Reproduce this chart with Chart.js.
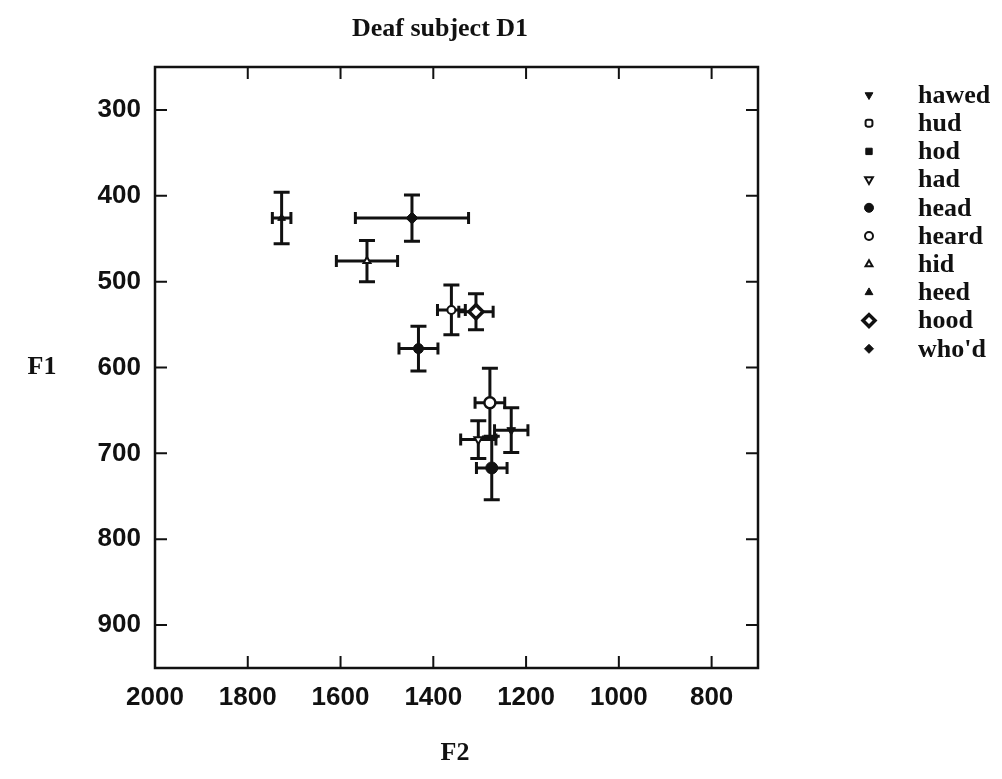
<!DOCTYPE html>
<html><head><meta charset="utf-8">
<script src="https://cdn.jsdelivr.net/npm/chart.js@4.4.0/dist/chart.umd.min.js"></script>
<style>html,body{margin:0;padding:0;background:#fff;}#wrap{width:1002px;height:779px;position:relative;}canvas{display:block;}</style>
</head><body><div id="wrap"><canvas id="c" width="1002" height="779"></canvas></div>
<script>
// ---- data ----
const vowels = ['hawed', 'hud', 'hod', 'had', 'head', 'heard', 'hid', 'heed', 'hood', "who'd"];
const f2Mean = [1232, 1278, 1274, 1303, 1432, 1361, 1543, 1727, 1308, 1446];
const f1Mean = [673, 641, 717, 684, 578, 533, 476, 426, 535, 426];
const f2Err  = [36, 32, 33, 38, 42, 30, 66, 20, 37, 122];
const f1Err  = [26, 40, 37, 22, 26, 29, 24, 30, 21, 27];
const xTickValues = [2000, 1800, 1600, 1400, 1200, 1000, 800];
const yTickValues = [300, 400, 500, 600, 700, 800, 900];
const titleText = 'Deaf subject D1';
const xTitleText = 'F2';
const yTitleText = 'F1';

// ---- marker styles per vowel ----
const INK = '#111';
const styles = {
  'hawed': {pointStyle: 'triangle', rotation: 180, bg: INK, r: 5, bw: 1},
  'hud':   {pointStyle: 'circle', rotation: 0, bg: '#fff', r: 5.5, bw: 2.5},
  'hod':   {pointStyle: 'circle', rotation: 0, bg: INK, r: 6, bw: 1},
  'had':   {pointStyle: 'triangle', rotation: 180, bg: '#fff', r: 4.5, bw: 2},
  'head':  {pointStyle: 'circle', rotation: 0, bg: INK, r: 5, bw: 1},
  'heard': {pointStyle: 'circle', rotation: 0, bg: '#fff', r: 4, bw: 2},
  'hid':   {pointStyle: 'triangle', rotation: 0, bg: '#fff', r: 4, bw: 2},
  'heed':  {pointStyle: 'triangle', rotation: 0, bg: INK, r: 4.5, bw: 1},
  'hood':  {pointStyle: 'rectRot', rotation: 0, bg: '#fff', r: 7, bw: 3.5},
  "who'd": {pointStyle: 'rectRot', rotation: 0, bg: INK, r: 6, bw: 1}
};
const legendStyles = {
  'hud': {pointStyle: 'rectRounded', rotation: 0, bg: '#fff', r: 4, bw: 2},
  'hod': {pointStyle: 'rect', rotation: 0, bg: INK, r: 4.5, bw: 1}
};

const datasets = vowels.map((v, i) => {
  const s = styles[v];
  return {
    label: v,
    data: [{x: f2Mean[i], y: f1Mean[i], ex: f2Err[i], ey: f1Err[i]}],
    pointStyle: s.pointStyle,
    rotation: s.rotation,
    pointRadius: s.r,
    pointBorderWidth: s.bw,
    pointBackgroundColor: s.bg,
    pointBorderColor: INK
  };
});

const errorBars = {
  id: 'errorBars',
  beforeDatasetsDraw(chart) {
    const {ctx, scales: {x, y}} = chart;
    ctx.save();
    ctx.strokeStyle = INK;
    ctx.lineWidth = 3;
    ctx.lineCap = 'butt';
    const cap = 7;
    chart.data.datasets.forEach(ds => {
      ds.data.forEach(p => {
        const px = x.getPixelForValue(p.x), py = y.getPixelForValue(p.y);
        const xl = x.getPixelForValue(p.x + p.ex), xr = x.getPixelForValue(p.x - p.ex);
        const yt = y.getPixelForValue(p.y - p.ey), yb = y.getPixelForValue(p.y + p.ey);
        ctx.beginPath();
        ctx.moveTo(xl, py); ctx.lineTo(xr, py);
        ctx.moveTo(xl, py - cap + 1); ctx.lineTo(xl, py + cap - 1);
        ctx.moveTo(xr, py - cap + 1); ctx.lineTo(xr, py + cap - 1);
        ctx.moveTo(px, yt); ctx.lineTo(px, yb);
        ctx.moveTo(px - cap - 1, yt); ctx.lineTo(px + cap + 1, yt);
        ctx.moveTo(px - cap - 1, yb); ctx.lineTo(px + cap + 1, yb);
        ctx.stroke();
      });
    });
    ctx.restore();
  }
};

const frame = {
  id: 'frame',
  afterDraw(chart) {
    const {ctx, chartArea: a, scales: {x, y}} = chart;
    ctx.save();
    ctx.strokeStyle = INK;
    ctx.lineWidth = 2.5;
    ctx.strokeRect(a.left, a.top, a.right - a.left, a.bottom - a.top);
    ctx.lineWidth = 2;
    const tl = 12;
    ctx.beginPath();
    xTickValues.forEach(v => {
      const px = x.getPixelForValue(v);
      if (px <= a.left + 1 || px >= a.right - 1) return;
      ctx.moveTo(px, a.bottom); ctx.lineTo(px, a.bottom - tl);
      ctx.moveTo(px, a.top); ctx.lineTo(px, a.top + tl);
    });
    yTickValues.forEach(v => {
      const py = y.getPixelForValue(v);
      ctx.moveTo(a.left, py); ctx.lineTo(a.left + tl, py);
      ctx.moveTo(a.right, py); ctx.lineTo(a.right - tl, py);
    });
    ctx.stroke();

    // titles
    ctx.fillStyle = INK;
    ctx.font = 'bold 26px "Liberation Serif"';
    ctx.textAlign = 'center';
    ctx.textBaseline = 'alphabetic';
    ctx.fillText(titleText, 440, 36);
    ctx.fillText(xTitleText, 455, 760);
    ctx.fillText(yTitleText, 42, 374);

    // legend
    const lx = 869, tx = 918, ly0 = 95, dy = 28.2;
    ctx.font = 'bold 26px "Liberation Serif"';
    ctx.textAlign = 'left';
    ctx.textBaseline = 'middle';
    vowels.forEach((v, i) => {
      const s = legendStyles[v] || styles[v];
      const yy = ly0 + i * dy;
      ctx.fillStyle = s.bg;
      ctx.strokeStyle = INK;
      ctx.lineWidth = s.bw;
      const r = Math.min(s.r, v === 'hood' ? 6 : 4.5);
      Chart.helpers.drawPoint(ctx, {pointStyle: s.pointStyle, rotation: s.rotation, radius: r, borderWidth: s.bw}, lx, yy);
      ctx.fillStyle = INK;
      ctx.fillText(v, tx, yy + 1);
    });
    ctx.restore();
  }
};

const plainTick = v => String(v);

new Chart(document.getElementById('c'), {
  type: 'scatter',
  data: {datasets},
  options: {
    responsive: false,
    animation: false,
    events: [],
    layout: {padding: {left: 0, top: 67, right: 244, bottom: 0}},
    plugins: {legend: {display: false}, title: {display: false}, tooltip: {enabled: false}},
    scales: {
      x: {
        type: 'linear', reverse: true, min: 700, max: 2000,
        afterBuildTicks: s => { s.ticks = xTickValues.map(v => ({value: v})); },
        afterFit: s => { s.height = 111; },
        grid: {display: false, drawTicks: false},
        border: {display: false},
        ticks: {color: INK, padding: 14, maxRotation: 0, autoSkip: false, callback: plainTick,
                font: {family: '"Liberation Sans"', size: 26, weight: 'bold'}}
      },
      y: {
        type: 'linear', reverse: true, min: 250, max: 950,
        afterBuildTicks: s => { s.ticks = yTickValues.map(v => ({value: v})); },
        afterFit: s => { s.width = 155; },
        grid: {display: false, drawTicks: false},
        border: {display: false},
        ticks: {color: INK, padding: 14, autoSkip: false, callback: plainTick,
                font: {family: '"Liberation Sans"', size: 26, weight: 'bold'}}
      }
    }
  },
  plugins: [errorBars, frame]
});
</script>
</body></html>
